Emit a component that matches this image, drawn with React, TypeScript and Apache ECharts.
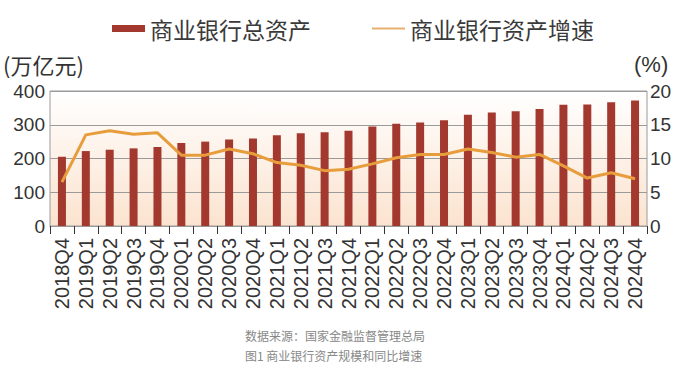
import React, { useEffect, useRef } from "react";
import * as echarts from "echarts";

const categories = [
  "2018Q4",
  "2019Q1", "2019Q2", "2019Q3", "2019Q4",
  "2020Q1", "2020Q2", "2020Q3", "2020Q4",
  "2021Q1", "2021Q2", "2021Q3", "2021Q4",
  "2022Q1", "2022Q2", "2022Q3", "2022Q4",
  "2023Q1", "2023Q2", "2023Q3", "2023Q4",
  "2024Q1", "2024Q2", "2024Q3", "2024Q4",
];
const totalAssets = [
  205, 222, 226, 230, 234, 246, 250, 256, 259, 269, 275, 278, 282,
  295, 303, 307, 313, 330, 336, 340, 347, 359, 360, 367, 372,
];
const growthRate = [
  6.5, 13.5, 14.1, 13.6, 13.8, 10.5, 10.5, 11.4, 10.7, 9.4, 9.0, 8.2, 8.4,
  9.2, 10.1, 10.6, 10.6, 11.4, 10.9, 10.2, 10.6, 8.9, 7.1, 7.9, 7.0,
];
const leftTicks = { min: 0, max: 400, interval: 100 };
const rightTicks = { min: 0, max: 20, interval: 5 };
const seriesNames = ["商业银行总资产", "商业银行资产增速"];
const leftUnit = "(万亿元)";
const rightUnit = "(%)";
const sourceText = "数据来源：国家金融监督管理总局";
const captionText = "图1 商业银行资产规模和同比增速";

const FONT = "'Liberation Sans', 'Noto Sans CJK SC', sans-serif";
const CJK = "'Noto Sans CJK SC', 'Liberation Sans', sans-serif";

export default function App() {
  const ref = useRef<HTMLDivElement>(null);
  useEffect(() => {
    if (!ref.current) return;
    const chart = echarts.init(ref.current, null, { renderer: "svg" });
    chart.setOption({
      animation: false,
      backgroundColor: "#ffffff",
      textStyle: { fontFamily: FONT },
      legend: {
        left: 107,
        top: 12,
        itemWidth: 33,
        itemHeight: 7,
        itemGap: 61,
        symbolKeepAspect: true,
        textStyle: { fontSize: 23, color: "#3a3a3a", fontFamily: CJK },
        data: [
          { name: seriesNames[0], icon: "rect" },
          { name: seriesNames[1], icon: "path://M0,0H33V2H0Z" },
        ],
      },
      grid: {
        left: 50,
        right: 40,
        top: 91,
        bottom: 146,
        show: true,
        borderColor: "#9a9a9a",
        borderWidth: 1,
        backgroundColor: new echarts.graphic.LinearGradient(0, 0, 0, 1, [
          { offset: 0, color: "#ffffff" },
          { offset: 1, color: "#fbe3cf" },
        ]),
      },
      xAxis: {
        type: "category",
        data: categories,
        boundaryGap: true,
        axisLine: { show: true, lineStyle: { color: "#9a9a9a" } },
        axisTick: { show: true, length: 8, lineStyle: { color: "#333" } },
        axisLabel: {
          rotate: 90,
          interval: 0,
          fontSize: 20,
          color: "#333",
          margin: 12,
          fontFamily: FONT,
        },
      },
      yAxis: [
        {
          type: "value",
          ...leftTicks,
          axisLine: { show: false },
          axisTick: { show: false },
          splitLine: { lineStyle: { color: "#9a9a9a", width: 1 } },
          axisLabel: { fontSize: 19, color: "#333", margin: 5 },
        },
        {
          type: "value",
          ...rightTicks,
          axisLine: { show: false },
          axisTick: { show: false },
          splitLine: { show: false },
          axisLabel: { fontSize: 19, color: "#333", margin: 3 },
        },
      ],
      series: [
        {
          name: seriesNames[0],
          type: "bar",
          data: totalAssets,
          barWidth: 8,
          itemStyle: { color: "#a3382f" },
          yAxisIndex: 0,
        },
        {
          name: seriesNames[1],
          type: "line",
          data: growthRate,
          yAxisIndex: 1,
          symbol: "none",
          lineStyle: { color: "#e89d3c", width: 3, join: "round" },
          itemStyle: { color: "#e8b070" },
        },
      ],
      graphic: [
        {
          type: "text",
          left: 3,
          top: 53,
          style: { text: leftUnit, fontSize: 22, fill: "#333", fontFamily: CJK },
        },
        {
          type: "text",
          left: 634,
          top: 53,
          style: { text: rightUnit, fontSize: 22, fill: "#333", fontFamily: FONT },
        },
        {
          type: "text",
          left: 245,
          top: 329,
          style: { text: sourceText, fontSize: 12, fill: "#888", fontFamily: CJK },
        },
        {
          type: "text",
          left: 245,
          top: 349,
          style: { text: captionText, fontSize: 12, fill: "#888", fontFamily: CJK },
        },
      ],
    });
    return () => chart.dispose();
  }, []);
  return (
    <div
      ref={ref}
      style={{ position: "fixed", left: 0, top: 0, width: 687, height: 372 }}
    />
  );
}
